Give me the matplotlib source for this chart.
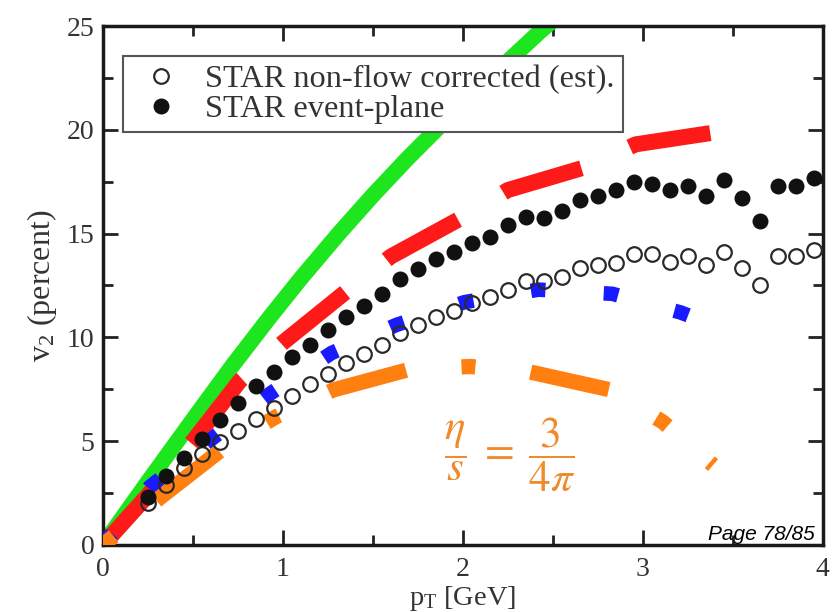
import matplotlib
matplotlib.use("Agg")
import matplotlib.pyplot as plt
from matplotlib.ticker import MultipleLocator

plt.rcParams['font.family'] = ['Liberation Serif', 'DejaVu Serif']
plt.rcParams['mathtext.fontset'] = 'custom'
plt.rcParams['mathtext.rm'] = 'Liberation Serif'
plt.rcParams['mathtext.it'] = 'Liberation Serif:italic'
plt.rcParams['lines.scale_dashes'] = False

# STAR data: pT [GeV] and v2 [percent]
pt_data = [0.25, 0.35, 0.45, 0.55, 0.65, 0.75, 0.85, 0.95, 1.05, 1.15,
           1.25, 1.35, 1.45, 1.55, 1.65, 1.75, 1.85, 1.95, 2.05, 2.15,
           2.25, 2.35, 2.45, 2.55, 2.65, 2.75, 2.85, 2.95, 3.05, 3.15,
           3.25, 3.35, 3.45, 3.55, 3.65, 3.75, 3.85, 3.95]
v2_event_plane = [2.3, 3.3, 4.2, 5.1, 6.0, 6.85, 7.65, 8.35, 9.05, 9.65,
                  10.35, 11.0, 11.5, 12.1, 12.8, 13.3, 13.8, 14.1, 14.55, 14.85,
                  15.4, 15.8, 15.75, 16.1, 16.6, 16.8, 17.1, 17.5, 17.4, 17.1,
                  17.3, 16.8, 17.6, 16.7, 15.6, 17.3, 17.3, 17.7]
v2_nonflow = [2.0, 2.9, 3.7, 4.4, 4.95, 5.5, 6.05, 6.6, 7.2, 7.75,
              8.25, 8.75, 9.2, 9.65, 10.2, 10.6, 11.0, 11.25, 11.65, 11.95,
              12.3, 12.7, 12.7, 12.9, 13.35, 13.5, 13.6, 14.0, 14.0, 13.65,
              13.9, 13.5, 14.1, 13.35, 12.5, 13.9, 13.9, 14.2]

# Hydrodynamic curves
pt_green = [0, 0.25, 0.53, 0.72, 0.92, 1.1, 1.31, 1.5, 1.69, 1.88, 2.07, 2.25, 2.43, 2.6]
v2_green = [0, 3.05, 6.4, 8.65, 10.9, 12.85, 15.0, 16.85, 18.6, 20.25, 21.85, 23.3, 24.75, 26.0]

pt_red = [0, 0.25, 0.5, 0.76, 1.0, 1.35, 1.6, 1.98, 2.25, 2.68, 2.96, 3.42]
v2_red = [0, 2.4, 5.0, 7.9, 9.75, 12.2, 13.9, 15.7, 17.1, 18.2, 19.3, 19.9]

pt_blue = [0, 0.26, 0.61, 0.93, 1.27, 1.63, 2.01, 2.42, 2.83, 3.21, 3.3]
v2_blue = [0, 2.8, 5.15, 7.3, 9.25, 10.6, 11.7, 12.3, 12.1, 11.2, 10.9]

pt_orange = [0, 0.32, 0.66, 0.96, 1.28, 1.69, 2.04, 2.37, 2.82, 3.11, 3.39]
v2_orange = [0, 2.3, 4.6, 6.17, 7.47, 8.43, 8.6, 8.34, 7.47, 5.93, 3.85]

x_ticks = [0, 1, 2, 3, 4]
y_ticks = [0, 5, 10, 15, 20, 25]

fig = plt.figure(figsize=(8.4, 6.12), dpi=100)
ax = fig.add_axes([0.1226, 0.1095, 0.857, 0.848])

ax.plot(pt_green, v2_green, color='#1ee61e', lw=11.5, solid_capstyle='butt',
        solid_joinstyle='round', zorder=2)
ax.plot(pt_red, v2_red, color='#ff1a1a', lw=11.5, dash_capstyle='butt',
        dashes=(59, 38), zorder=3)
ax.plot(pt_blue, v2_blue, color='#1a1aff', lw=10.5, dash_capstyle='butt',
        dashes=(10.5, 42), zorder=3)
ax.plot(pt_orange, v2_orange, color='#ff8010', lw=11.0, dash_capstyle='butt',
        dashes=(10, 40, 57.6, 40), zorder=3)

ax.plot(pt_data, v2_nonflow, 'o', ms=10.5, mfc='none', mec='#2a2a2a', mew=1.6,
        zorder=5, label='STAR non-flow corrected (est).')
ax.plot(pt_data, v2_event_plane, 'o', ms=11.5, mfc='#111111', mec='#111111', mew=0,
        zorder=6, label='STAR event-plane')

ax.set_xlim(0, 4)
ax.set_ylim(0, 25)
ax.set_xticks(x_ticks)
ax.set_yticks(y_ticks)
ax.xaxis.set_minor_locator(MultipleLocator(0.5))
ax.yaxis.set_minor_locator(MultipleLocator(2.5))
ax.tick_params(which='both', direction='in', top=True, right=True,
               colors='#222222', labelcolor='#333333', labelsize=20)
ax.tick_params(which='major', length=11, width=2)
ax.tick_params(which='minor', length=7, width=2)
ax.tick_params(axis='x', pad=9)
ax.tick_params(axis='y', pad=6)
for s in ax.spines.values():
    s.set_linewidth(2.5)
    s.set_color('#1a1a1a')

ax.set_xlabel(r'p$_\mathregular{T}$ [GeV]', fontsize=20.5, color='#333333', labelpad=1)
ax.set_ylabel(r'v$_\mathregular{2}$ (percent)', fontsize=23, color='#333333', labelpad=6)

leg = ax.legend(loc='upper left', bbox_to_anchor=(0.028, 0.942), borderaxespad=0,
                fontsize=23.3, frameon=True, fancybox=False, edgecolor='#555555',
                framealpha=1, handlelength=1.85, handletextpad=0.43, borderpad=0.25,
                labelspacing=0.02, labelcolor='#333333')
leg.get_frame().set_linewidth(1.5)
leg.set_zorder(10)

ax.text(0.565, 0.173, r'$\dfrac{\eta}{s} \;=\; \dfrac{3}{4\pi}$', transform=ax.transAxes,
        ha='center', va='center', fontsize=31, color='#f08a2a', math_fontfamily='stix')

fig.text(0.970, 0.1176, 'Page 78/85', ha='right', va='baseline', fontsize=15,
         family='Liberation Sans', style='italic', color='black')

fig.savefig('out.png', dpi=100)
